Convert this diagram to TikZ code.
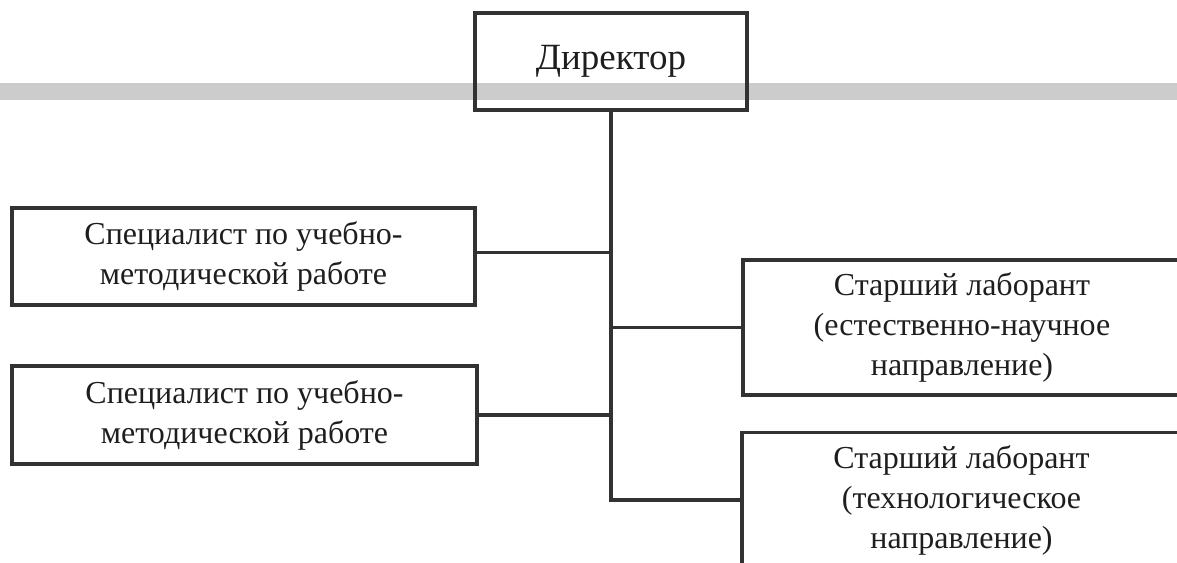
\documentclass[tikz,border=0pt]{standalone}
\usepackage{fontspec}
\setmainfont{Liberation Serif}
\usepackage{tikz}
\usetikzlibrary{calc}
\definecolor{bandgrey}{RGB}{204,204,204}
\definecolor{inkgrey}{RGB}{50,50,50}
\definecolor{textgrey}{RGB}{30,30,30}

\begin{document}
\begin{tikzpicture}[x=1pt,y=-1pt,
        box/.style={draw=inkgrey,line width=3.2pt,inner sep=0pt,align=center,
            text=textgrey,font=\fontsize{32}{40}\selectfont},
        link/.style={draw=inkgrey,line width=3.2pt}]
        \clip (0,0) rectangle (1177,562);
        \fill[bandgrey] (0,83) rectangle (1177,100);
        \node[box,minimum width=272pt,minimum height=97pt,
            font=\fontsize{37}{44}\selectfont] (dir) at (611,61.5) {Директор};
        \node[box,minimum width=463pt,minimum height=97pt] (spec1) at (243.5,256.5)
            {Специалист по учебно-\\методической работе};
        \node[box,minimum width=465pt,minimum height=98pt] (spec2) at (244.5,415)
            {Специалист по учебно-\\методической работе};
        \node[box,minimum width=438pt,minimum height=135pt] (lab1) at (962,327.5)
            {Старший лаборант\\(естественно-научное\\направление)};
        \node[box,minimum width=439pt,minimum height=135pt] (lab2) at (961.5,500)
            {Старший лаборант\\(технологическое\\направление)};
        \coordinate (spec1link) at ([yshift=4pt]spec1.east);
        \draw[link] (dir.south) -- (dir.south |- lab2.west) -- (lab2.west);
        \draw[link] (spec1link) -- (dir.south |- spec1link);
        \draw[link] (spec2.east) -- (dir.south |- spec2.east);
        \draw[link] (dir.south |- lab1.west) -- (lab1.west);
    \end{tikzpicture}
\end{document}
